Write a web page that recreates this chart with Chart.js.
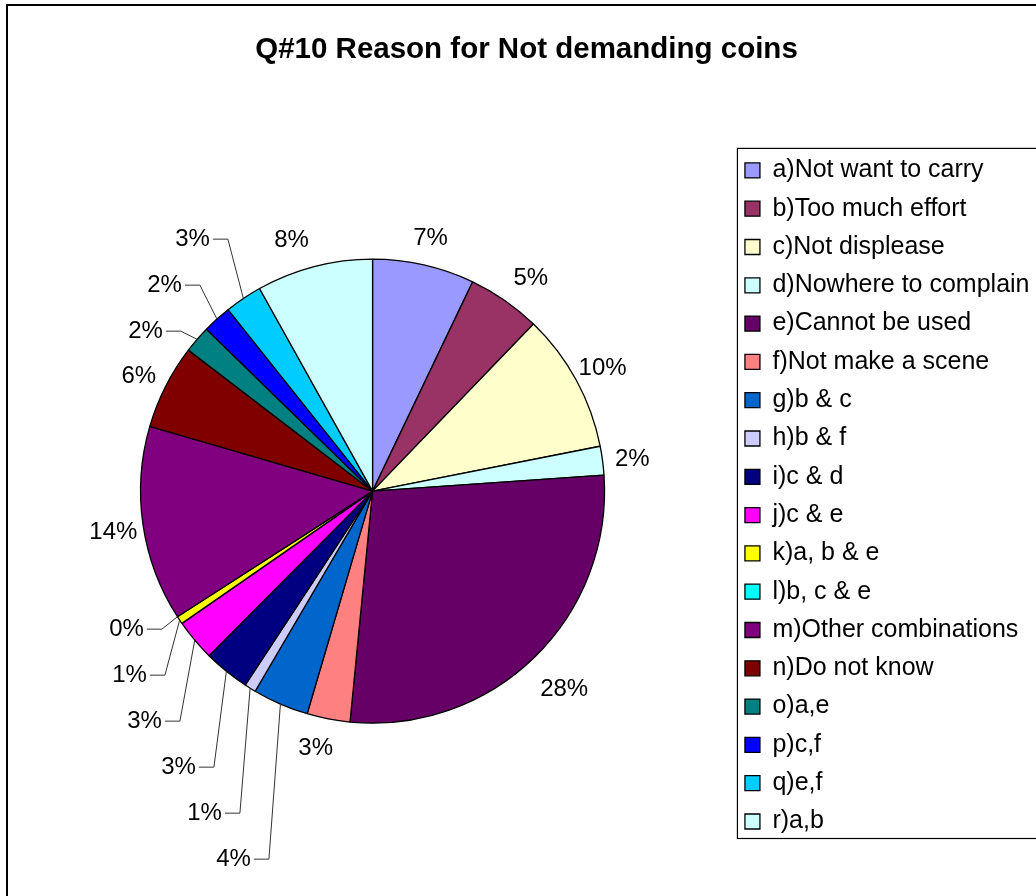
<!DOCTYPE html>
<html>
<head>
<meta charset="utf-8">
<title>Q#10 Reason for Not demanding coins</title>
<script src="https://cdn.jsdelivr.net/npm/chart.js@4.4.1/dist/chart.umd.min.js"></script>
<style>
  html, body { margin: 0; padding: 0; background: #fff; overflow: hidden; }
  #frame {
    position: absolute; left: 6px; top: 4px;
    width: 1036px; height: 900px;
    border: 2px solid #000;
  }
  #pie { display: block; }
</style>
</head>
<body>
<div id="frame"><canvas id="pie" width="1036" height="900"></canvas></div>
<script>
// Data (percent of respondents)
const chartTitle = 'Q#10 Reason for Not demanding coins';
const reasons = [
  'a)Not want to carry', 'b)Too much effort', 'c)Not displease', 'd)Nowhere to complain',
  'e)Cannot be used', 'f)Not make a scene', 'g)b & c', 'h)b & f', 'i)c & d', 'j)c & e',
  'k)a, b & e', 'l)b, c & e', 'm)Other combinations', 'n)Do not know',
  'o)a,e', 'p)c,f', 'q)e,f', 'r)a,b'
];
const shares = [7.1, 5.1, 9.7, 2.0, 27.65, 3.0, 3.9, 0.8, 3.2, 2.9, 0.55, 0, 13.6, 5.9, 1.9, 2.0, 2.6, 8.1];
const sliceColors = [
  '#9999FF', '#993366', '#FFFFCC', '#CCFFFF', '#660066', '#FF8080', '#0066CC', '#CCCCFF', '#000080',
  '#FF00FF', '#FFFF00', '#00FFFF', '#800080', '#800000', '#008080', '#0000FF', '#00CCFF', '#CCFFFF'
];

// Labels that were pulled away from crowded slices (offset from pie centre, px)
const leaderSpots = {
  'g)b & c': [-139, 367],
  'h)b & f': [-168, 321],
  'i)c & d': [-194, 275],
  'j)c & e': [-228, 229],
  'k)a, b & e': [-243, 183],
  'l)b, c & e': [-246, 137],
  'o)a,e': [-227, -161],
  'p)c,f': [-208, -207],
  'q)e,f': [-180, -253]
};
// small hand nudges for a few of the rim labels
const labelNudge = {
  'b)Too much effort': [9, 0],
  'e)Cannot be used': [9, 7],
  'f)Not make a scene': [-7, -3],
  'r)a,b': [-15, 0]
};

const FONT = 'Arial, "Liberation Sans", sans-serif';
const LABEL_SIZE = 24;
const LABEL_DIST = 30;   // label centre sits this far outside the rim

const pctLabels = {
  id: 'pctLabels',
  afterDatasetsDraw(chart) {
    const { ctx } = chart;
    const meta = chart.getDatasetMeta(0);
    const total = shares.reduce((s, v) => s + v, 0);
    ctx.save();
    ctx.font = `${LABEL_SIZE}px ${FONT}`;
    ctx.fillStyle = '#000';
    ctx.strokeStyle = '#333';
    ctx.lineWidth = 1;
    ctx.textAlign = 'center';
    ctx.textBaseline = 'middle';
    meta.data.forEach((arc, i) => {
      const { x, y, startAngle, endAngle, outerRadius } =
        arc.getProps(['x', 'y', 'startAngle', 'endAngle', 'outerRadius'], true);
      const mid = (startAngle + endAngle) / 2;
      const ux = Math.cos(mid), uy = Math.sin(mid);
      const text = Math.round(shares[i] * 100 / total) + '%';
      const w = ctx.measureText(text).width;
      let cx, cy;
      const spot = leaderSpots[reasons[i]];
      if (spot) {
        cx = x + spot[0];
        cy = y + spot[1] + 1;
        const ex = x + ux * outerRadius, ey = y + uy * outerRadius;
        const dir = ex > cx ? 1 : -1;
        const sx = cx + dir * (w / 2 + 3);
        ctx.beginPath();
        ctx.moveTo(sx, cy);
        ctx.lineTo(sx + dir * 15, cy);
        ctx.lineTo(ex, ey);
        ctx.stroke();
      } else {
        const nudge = labelNudge[reasons[i]] || [0, 0];
        cx = x + ux * (outerRadius + LABEL_DIST) + nudge[0];
        cy = y + uy * (outerRadius + LABEL_DIST) + 3 + nudge[1];
      }
      ctx.fillText(text, cx, cy);
    });
    ctx.restore();
  }
};

const legendFrame = {
  id: 'legendFrame',
  afterDraw(chart) {
    const boxes = chart.legend?.legendHitBoxes;
    if (!boxes || !boxes.length) return;
    const first = boxes[0], last = boxes[boxes.length - 1];
    const top = first.top + first.height / 2 - 22;
    const bottom = last.top + last.height / 2 + 17;
    const { ctx } = chart;
    ctx.save();
    ctx.strokeStyle = '#000';
    ctx.lineWidth = 1.2;
    ctx.strokeRect(first.left - 7.5, top, chart.width, bottom - top);
    ctx.restore();
  }
};

function drawChart() {
  const ctx = document.getElementById('pie').getContext('2d');
  Chart.defaults.color = '#000';
  Chart.defaults.font.family = FONT;

  new Chart(ctx, {
    type: 'pie',
    data: {
      labels: reasons,
      datasets: [{
        data: shares,
        backgroundColor: sliceColors,
        borderColor: '#000',
        borderWidth: 1.3
      }]
    },
    options: {
      responsive: false,
      animation: false,
      events: [],
      radius: 232,
      layout: { padding: { left: 5.5, right: 4.5 } },
      plugins: {
        title: {
          display: true,
          text: chartTitle,
          color: '#000',
          font: { family: FONT, size: 29.5, weight: 'bold' },
          padding: { top: 26.6, bottom: 8.3 }
        },
        legend: {
          position: 'right',
          fullSize: false,
          // an empty legend title only nudges the rows down a few pixels
          title: { display: true, text: ' ', font: { size: 8 }, padding: 0 },
          labels: {
            color: '#000',
            font: { family: FONT, size: 25 },
            boxWidth: 15,
            boxHeight: 15,
            padding: 13.3
          }
        },
        tooltip: { enabled: false }
      }
    },
    plugins: [pctLabels, legendFrame]
  });
}

window.addEventListener('DOMContentLoaded', drawChart);
</script>
</body>
</html>
